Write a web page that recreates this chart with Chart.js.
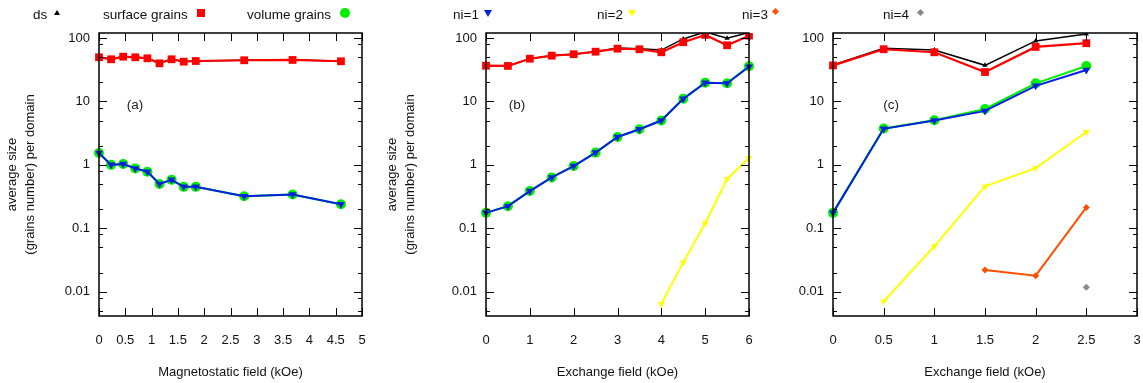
<!DOCTYPE html>
<html>
<head>
<meta charset="utf-8">
<script src="https://cdn.jsdelivr.net/npm/chart.js@4.4.1/dist/chart.umd.min.js"></script>
<style>
  body { margin: 0; background: #fff; }
  #wrap { position: relative; width: 1143px; height: 383px; font-family: "Liberation Sans", Arial, sans-serif; font-size: 13.5px; color: #111; }
  canvas { position: absolute; top: 0; }
  .lab { position: absolute; top: 6px; line-height: 18px; white-space: nowrap; }
  .mk { position: absolute; }
</style>
</head>
<body>
<div id="wrap">
  <canvas id="chartA" width="380" height="383" style="left:0"></canvas>
  <canvas id="chartB" width="380" height="383" style="left:380px"></canvas>
  <canvas id="chartC" width="383" height="383" style="left:760px"></canvas>

  <!-- legend row: text first, then the marker -->
  <span class="lab" style="left:33px">ds</span>
  <span class="mk" style="left:54px;top:10px;width:0;height:0;border-left:3px solid transparent;border-right:3px solid transparent;border-bottom:5px solid #000"></span>
  <span class="lab" style="left:103px">surface grains</span>
  <span class="mk" style="left:197px;top:9px;width:8px;height:8px;background:#ff0000"></span>
  <span class="lab" style="left:247px">volume grains</span>
  <span class="mk" style="left:340px;top:8px;width:10px;height:10px;border-radius:50%;background:#00ee00"></span>
  <span class="lab" style="left:453px">ni=1</span>
  <span class="mk" style="left:484px;top:10px;width:0;height:0;border-left:4px solid transparent;border-right:4px solid transparent;border-top:7px solid #0020e0"></span>
  <span class="lab" style="left:597px">ni=2</span>
  <span class="mk" style="left:628px;top:10px;width:0;height:0;border-left:4px solid transparent;border-right:4px solid transparent;border-top:7px solid #ffff00"></span>
  <span class="lab" style="left:742px">ni=3</span>
  <span class="mk" style="left:773px;top:9px;width:5px;height:5px;transform:rotate(45deg);background:#ff5000"></span>
  <span class="lab" style="left:883px">ni=4</span>
  <span class="mk" style="left:918px;top:10px;width:5px;height:5px;transform:rotate(45deg);background:#888888"></span>
</div>

<script>
// Panel (a): magnetostatic field
const xA = [0, 0.23, 0.46, 0.69, 0.92, 1.15, 1.38, 1.61, 1.84, 2.76, 3.68, 4.6];
const dsA = [50, 46.5, 51, 50, 48, 40.5, 46.5, 42.8, 43.6, 44.8, 45.3, 43.2];
const surfA = [49.7, 46.2, 50.8, 49.7, 47.9, 39.9, 46.2, 42.4, 43.4, 44.6, 45.1, 43.0];
const volA = [1.54, 1.0, 1.03, 0.88, 0.78, 0.5, 0.58, 0.45, 0.45, 0.32, 0.34, 0.24];
const ni1A = [1.54, 1.0, 1.03, 0.88, 0.78, 0.5, 0.58, 0.45, 0.45, 0.32, 0.34, 0.24];

// Panel (b): exchange field
const xB = [0, 0.5, 1, 1.5, 2, 2.5, 3, 3.5, 4, 4.5, 5, 5.5, 6];
const dsB = [36.6, 36.3, 47.2, 52.7, 55.5, 60.9, 69.5, 68, 64.6, 96.8, 125, 99, 122];
const surfB = [36.6, 36.3, 47.2, 52.7, 55.5, 60.9, 68, 66.5, 59.6, 85.9, 112, 76.9, 109];
const volB = [0.175, 0.223, 0.386, 0.634, 0.957, 1.56, 2.75, 3.65, 5.0, 11, 19.7, 19.4, 36];
const ni1B = [0.175, 0.223, 0.386, 0.634, 0.957, 1.56, 2.75, 3.65, 5.0, 11, 19.7, 19.4, 35.3];
const ni2B = [null, null, null, null, null, null, null, null, 0.0064, 0.029, 0.12, 0.60, 1.28];

// Panel (c): exchange field
const xC = [0, 0.5, 1, 1.5, 2, 2.5];
const dsC = [37.5, 69, 64.8, 37.1, 90, 116];
const surfC = [37, 66.5, 59.6, 29.1, 72.3, 82.8];
const volC = [0.175, 3.74, 5.06, 7.6, 19.3, 36.2];
const ni1C = [0.175, 3.7, 5.0, 7.1, 17.6, 31.3];
const ni2C = [null, 0.007, 0.052, 0.457, 0.89, 3.3];
const ni3C = [null, null, null, 0.022, 0.0179, 0.213];
const ni4C = [null, null, null, null, null, 0.0118];

// axis ticks
const yTicks = [0.01, 0.1, 1, 10, 100];
const yMinor = [0.002, 0.005, 0.008, 0.02, 0.05, 0.08, 0.2, 0.5, 0.8, 2, 5, 8, 20, 50, 80];
const yTitle = ['average size', '(grains number) per domain'];

Chart.defaults.font.family = '"Liberation Sans", Arial, sans-serif';
Chart.defaults.font.size = 13;
Chart.defaults.color = '#111';

const styles = {
  ds:   { color: '#000000', style: 'triangle', rot: 0, r: 3, w: 1.5, order: 4 },
  surf: { color: '#ff0000', style: 'rect', rot: 0, r: 5.5, w: 2.2, order: 3 },
  vol:  { color: '#00ee00', style: 'circle', rot: 0, r: 5, w: 2, order: 2 },
  ni1:  { color: '#0020e0', style: 'triangle', rot: 180, r: 4.5, w: 2, order: 1 },
  ni2:  { color: '#ffff00', style: 'triangle', rot: 180, r: 4, w: 2, order: 1 },
  ni3:  { color: '#ff5000', style: 'rectRot', rot: 0, r: 3.5, w: 2, order: 1 },
  ni4:  { color: '#888888', style: 'rectRot', rot: 0, r: 3.5, w: 2, order: 1 }
};

function series(key, xs, ys) {
  const s = styles[key];
  return {
    data: xs.map((x, i) => ({ x: x, y: ys[i] })),
    borderColor: s.color,
    backgroundColor: s.color,
    borderWidth: s.w,
    pointStyle: s.style,
    rotation: s.rot,
    pointRadius: s.r,
    pointBorderWidth: 0,
    pointBackgroundColor: s.color,
    order: s.order,
    clip: { left: 8, right: 8, top: 0, bottom: 8 }
  };
}

// box, inward mirrored ticks and the (a)/(b)/(c) tag
const frame = {
  id: 'frame',
  afterDatasetsDraw(chart, args, opts) {
    const { ctx, chartArea: a, scales: { x, y } } = chart;
    ctx.save();
    ctx.strokeStyle = '#000';
    ctx.lineWidth = 1;
    function line(x1, y1, x2, y2) {
      ctx.beginPath(); ctx.moveTo(x1, y1); ctx.lineTo(x2, y2); ctx.stroke();
    }
    x.ticks.forEach(t => {
      const px = Math.round(x.getPixelForValue(t.value)) + 0.5;
      line(px, a.bottom, px, a.bottom - 8);
      line(px, a.top, px, a.top + 8);
    });
    yTicks.forEach(v => {
      const py = Math.round(y.getPixelForValue(v)) + 0.5;
      line(a.left, py, a.left + 8, py);
      line(a.right, py, a.right - 8, py);
    });
    yMinor.forEach(v => {
      const py = Math.round(y.getPixelForValue(v)) + 0.5;
      if (py < a.top || py > a.bottom) return;
      line(a.left, py, a.left + 4, py);
      line(a.right, py, a.right - 4, py);
    });
    ctx.lineWidth = 1.5;
    ctx.strokeRect(a.left, a.top, a.right - a.left, a.bottom - a.top);
    ctx.fillStyle = '#222';
    ctx.font = '13.5px "Liberation Sans", Arial, sans-serif';
    ctx.textAlign = 'center';
    ctx.textBaseline = 'middle';
    ctx.fillText(opts.label, a.left + opts.lx, a.top + 72);
    ctx.restore();
  }
};

function makeChart(id, datasets, o) {
  return new Chart(document.getElementById(id), {
    type: 'line',
    data: { datasets: datasets },
    options: {
      responsive: false,
      animation: false,
      events: [],
      layout: { padding: { top: 33, right: o.padRight, left: 0, bottom: 0 } },
      plugins: {
        legend: { display: false },
        tooltip: { enabled: false },
        frame: { label: o.label, lx: o.lx }
      },
      scales: {
        x: {
          type: 'linear',
          min: 0,
          max: o.xMax,
          grid: { display: false, drawTicks: false },
          border: { display: false },
          ticks: { stepSize: o.step, padding: 17, maxRotation: 0, autoSkip: false, callback: v => String(v) },
          title: { display: true, text: o.xTitle, padding: { top: 0, bottom: 3 } },
          afterFit: s => { s.height = 67; s.paddingLeft = 0; s.paddingRight = 0; }
        },
        y: {
          type: 'logarithmic',
          min: 0.00414,
          max: 120,
          grid: { display: false, drawTicks: false },
          border: { display: false },
          afterBuildTicks: s => { s.ticks = yTicks.map(v => ({ value: v })); },
          ticks: { padding: 9, callback: v => String(v) },
          title: { display: o.yTitle, text: yTitle, padding: { top: 3, bottom: 0 }, font: { lineHeight: 1.4 } },
          afterFit: s => { s.width = o.yWidth; }
        }
      }
    },
    plugins: [frame]
  });
}

makeChart('chartA', [
  series('ds', xA, dsA),
  series('surf', xA, surfA),
  series('vol', xA, volA),
  series('ni1', xA, ni1A)
], { xMax: 5, step: 0.5, xTitle: 'Magnetostatic field (kOe)', yTitle: true, yWidth: 99, padRight: 18, label: '(a)', lx: 36 });

makeChart('chartB', [
  series('ds', xB, dsB),
  series('surf', xB, surfB),
  series('vol', xB, volB),
  series('ni1', xB, ni1B),
  series('ni2', xB, ni2B)
], { xMax: 6, step: 1, xTitle: 'Exchange field (kOe)', yTitle: true, yWidth: 106, padRight: 11, label: '(b)', lx: 31 });

makeChart('chartC', [
  series('ds', xC, dsC),
  series('surf', xC, surfC),
  series('vol', xC, volC),
  series('ni1', xC, ni1C),
  series('ni2', xC, ni2C),
  series('ni3', xC, ni3C),
  series('ni4', xC, ni4C)
], { xMax: 3, step: 0.5, xTitle: 'Exchange field (kOe)', yTitle: false, yWidth: 73, padRight: 6, label: '(c)', lx: 58 });
</script>
</body>
</html>
